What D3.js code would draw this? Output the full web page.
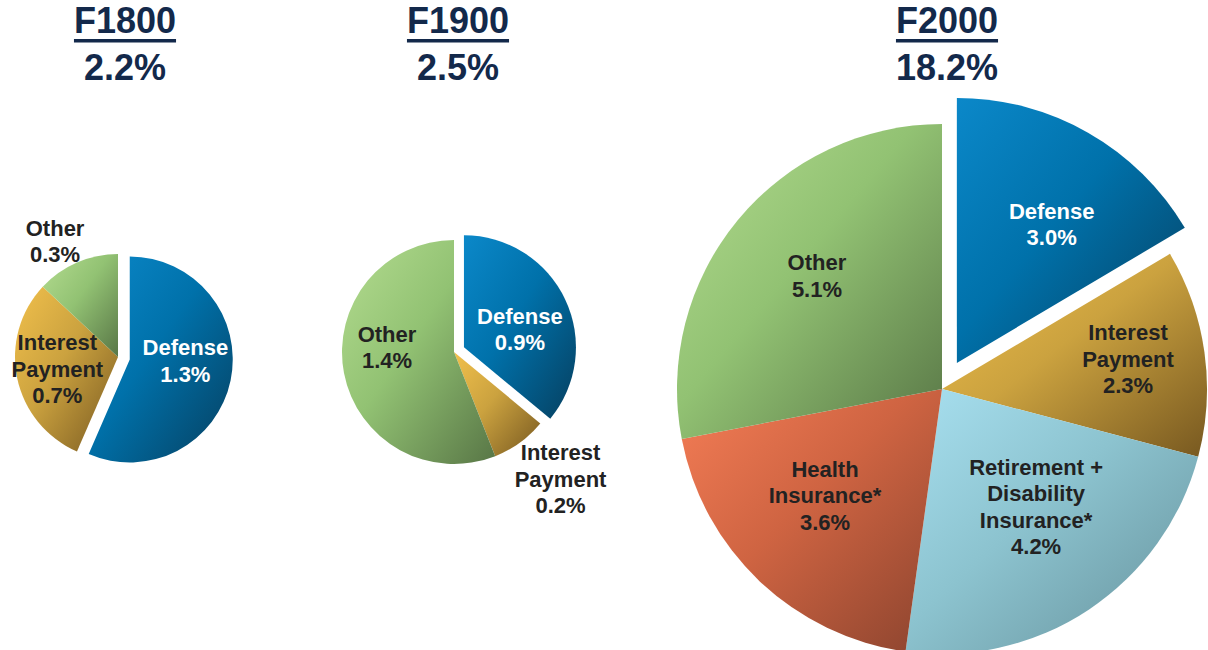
<!DOCTYPE html>
<html>
<head>
<meta charset="utf-8">
<script src="https://cdn.jsdelivr.net/npm/d3@7"></script>
<style>
  body { margin: 0; background: #fff; }
  svg { display: block; font-family: "Liberation Sans", Arial, sans-serif; }
</style>
</head>
<body>
<div id="chart"></div>
<script>
// titles
var years = ["F1800", "F1900", "F2000"];
var totals = ["2.2%", "2.5%", "18.2%"];

// slices per year (share of GDP, %)
var cats1800 = ["Defense", "Interest Payment", "Other"];
var vals1800 = [1.3, 0.7, 0.3];
var cats1900 = ["Defense", "Interest Payment", "Other"];
var vals1900 = [0.9, 0.2, 1.4];
var cats2000 = ["Defense", "Interest Payment", "Retirement + Disability Insurance*", "Health Insurance*", "Other"];
var vals2000 = [3.0, 2.3, 4.2, 3.6, 5.1];

// label line breaks
var labelLines = {
  "Defense": ["Defense"],
  "Interest Payment": ["Interest", "Payment"],
  "Other": ["Other"],
  "Retirement + Disability Insurance*": ["Retirement +", "Disability", "Insurance*"],
  "Health Insurance*": ["Health", "Insurance*"]
};

// gradient colours: [light, mid, dark]
var colors = {
  "Defense": ["#0b88c9", "#0071aa", "#063f5f"],
  "Interest Payment": ["#f1c04c", "#cba23f", "#775820"],
  "Other": ["#b4dc90", "#92c273", "#587646"],
  "Retirement + Disability Insurance*": ["#a8e0f0", "#8cc3cf", "#65909a"],
  "Health Insurance*": ["#f47d56", "#cf6442", "#8a432e"]
};

// layout of each pie; labels = [radius ratio, angle in degrees]
var pieLayout = [
  { cx: 118, cy: 357, r: 103, explode: 12, tx: 125,
    labels: [[0.54, 91], [0.60, 259], [1.28, 331.5]] },
  { cx: 454, cy: 352, r: 112, explode: 11, tx: 458,
    labels: [[0.525, 72], [1.48, 140], [0.60, 274]] },
  { cx: 942, cy: 389, r: 265, explode: 30, tx: 947,
    labels: [[0.635, 34.3], [0.711, 80.8], [0.568, 141.3], [0.596, 227.8], [0.637, 312.2]] }
];

var datasets = [
  cats1800.map(function(c, i){ return {cat: c, value: vals1800[i]}; }),
  cats1900.map(function(c, i){ return {cat: c, value: vals1900[i]}; }),
  cats2000.map(function(c, i){ return {cat: c, value: vals2000[i]}; })
];

var W = 1208, H = 650;
var svg = d3.select("#chart").append("svg")
  .attr("width", W).attr("height", H);

var defs = svg.append("defs");
var gradCnt = 0;
function gradient(cat){
  var id = "g" + (gradCnt++);
  var g = defs.append("linearGradient").attr("id", id)
    .attr("x1", 0).attr("y1", 0).attr("x2", 1).attr("y2", 1);
  g.append("stop").attr("offset", "0%").attr("stop-color", colors[cat][0]);
  g.append("stop").attr("offset", "45%").attr("stop-color", colors[cat][1]);
  g.append("stop").attr("offset", "100%").attr("stop-color", colors[cat][2]);
  return "url(#" + id + ")";
}

var pie = d3.pie().sort(null).value(function(d){ return d.value; });
var fontSize = 22, lineH = 26.5;

datasets.forEach(function(data, p){
  var L = pieLayout[p];
  var arc = d3.arc().innerRadius(0).outerRadius(L.r);
  var arcs = pie(data);
  var g = svg.append("g").attr("transform", "translate(" + L.cx + "," + L.cy + ")");

  arcs.forEach(function(a, i){
    var off = [0, 0];
    if (a.data.cat === "Defense") {
      var mid = (a.startAngle + a.endAngle) / 2;
      off = [Math.sin(mid) * L.explode, -Math.cos(mid) * L.explode];
    }
    g.append("path")
      .attr("d", arc(a))
      .attr("transform", "translate(" + off[0] + "," + off[1] + ")")
      .attr("fill", gradient(a.data.cat));

    // label
    var lp = L.labels[i];
    var ang = lp[1] * Math.PI / 180;
    var lx = off[0] + Math.sin(ang) * L.r * lp[0];
    var ly = off[1] - Math.cos(ang) * L.r * lp[0];
    var lines = labelLines[a.data.cat].concat([d3.format(".1f")(a.data.value) + "%"]);
    var t = g.append("text")
      .attr("text-anchor", "middle")
      .attr("font-size", fontSize)
      .attr("font-weight", "bold")
      .attr("fill", a.data.cat === "Defense" ? "#ffffff" : "#222222");
    lines.forEach(function(s, k){
      t.append("tspan")
        .attr("x", lx)
        .attr("y", ly + (k - (lines.length - 1) / 2) * lineH)
        .attr("dy", "0.36em")
        .text(s);
    });
  });

  // title
  var yr = svg.append("text")
    .attr("x", L.tx).attr("y", 33)
    .attr("text-anchor", "middle")
    .attr("font-size", 36).attr("font-weight", "bold")
    .attr("fill", "#13294b")
    .text(years[p]);
  var w = yr.node().getComputedTextLength();
  svg.append("rect")
    .attr("x", L.tx - w / 2).attr("y", 39)
    .attr("width", w).attr("height", 3.5)
    .attr("fill", "#13294b");
  svg.append("text")
    .attr("x", L.tx).attr("y", 80)
    .attr("text-anchor", "middle")
    .attr("font-size", 36).attr("font-weight", "bold")
    .attr("fill", "#13294b")
    .text(totals[p]);
});
</script>
</body>
</html>
